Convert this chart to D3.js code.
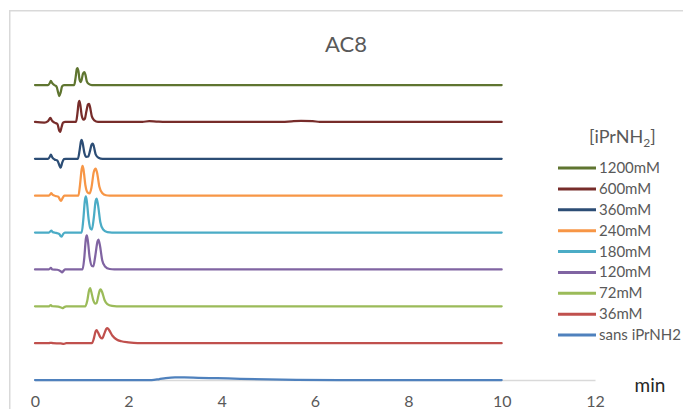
<!DOCTYPE html>
<html>
<head>
<meta charset="utf-8">
<script src="https://cdn.jsdelivr.net/npm/d3@7"></script>
<style>
  html, body { margin: 0; padding: 0; background: #fff; }
  svg { display: block; }
  text { font-family: Lato, "Liberation Sans", sans-serif; }
</style>
</head>
<body>
<svg id="chart" width="683" height="409"></svg>
<script>
// ---------- DATA ----------
const chartTitle = "AC8";
const legendTitle = "[iPrNH";
const xTicks = [0, 2, 4, 6, 8, 10, 12];
const xLabel = "min";

// legend order (top to bottom)
const seriesNames = ["1200mM", "600mM", "360mM", "240mM", "180mM", "120mM", "72mM", "36mM", "sans iPrNH2"];
const seriesColors = ["#5f7530", "#772c2a", "#2c4d75", "#f79646", "#4bacc6", "#8064a2", "#9bbb59", "#c0504d", "#4f81bd"];
// vertical offset (stacking) of each trace, signal units
const seriesOffsets = [800, 700, 600, 500, 400, 300, 200, 100, 0];

// traces: [time (min), signal]
const s1200 = [[0,0],[0.28,0],[0.32,6],[0.34,11],[0.37,5],[0.41,0],[0.46,-4],[0.5,-22],[0.52,-30],[0.55,-20],[0.58,-4],[0.62,0],[0.84,0],[0.87,20],[0.895,43],[0.91,46],[0.93,38],[0.955,14],[0.975,8],[0.995,12],[1.03,31],[1.06,35],[1.08,28],[1.11,10],[1.15,3],[1.22,0],[10,0]];
const s600 = [[0,0],[0.2,-2],[0.28,2],[0.33,11],[0.36,4],[0.42,-2],[0.48,-6],[0.52,-24],[0.54,-27],[0.57,-14],[0.6,-2],[0.65,0],[0.88,0],[0.91,24],[0.935,52],[0.95,57],[0.97,47],[1.0,18],[1.04,6],[1.07,9],[1.1,28],[1.135,47],[1.16,49],[1.18,40],[1.22,14],[1.27,4],[1.35,0],[2.3,0],[2.45,2],[2.6,1],[2.8,0],[5.3,0],[5.5,1.5],[5.7,2.5],[5.95,2],[6.1,0],[10,0]];
const s360 = [[0,0],[0.28,0],[0.32,6],[0.34,11],[0.37,4],[0.42,-2],[0.48,-5],[0.53,-20],[0.55,-24],[0.58,-12],[0.62,-1],[0.66,0],[0.92,0],[0.955,22],[0.985,47],[1.0,51],[1.02,43],[1.06,15],[1.1,5],[1.14,6],[1.18,22],[1.215,39],[1.24,41],[1.26,34],[1.3,12],[1.36,3],[1.45,0],[10,0]];
const s240 = [[0,0],[0.3,0],[0.33,4],[0.35,7],[0.38,2],[0.44,-1],[0.5,-3],[0.54,-12],[0.56,-14],[0.59,-7],[0.63,0],[0.93,0],[0.965,30],[1.0,72],[1.02,81],[1.04,70],[1.08,28],[1.13,8],[1.17,6],[1.21,22],[1.26,64],[1.3,73],[1.33,62],[1.38,24],[1.44,7],[1.52,1],[1.6,0],[10,0]];
const s180 = [[0,0],[0.3,0],[0.33,3],[0.35,5],[0.38,1],[0.45,-1],[0.52,-4],[0.55,-10],[0.57,-11],[0.6,-5],[0.64,0],[1.0,0],[1.035,35],[1.07,88],[1.09,98],[1.11,85],[1.15,35],[1.19,10],[1.22,8],[1.26,40],[1.3,86],[1.32,92],[1.35,75],[1.4,28],[1.46,8],[1.55,1],[1.65,0],[10,0]];
const s120 = [[0,0],[0.3,0],[0.34,4],[0.37,0],[0.48,-1],[0.55,-5],[0.58,-8],[0.61,-4],[0.65,0],[1.02,0],[1.055,30],[1.09,83],[1.11,92],[1.13,80],[1.17,33],[1.22,9],[1.25,8],[1.29,35],[1.34,76],[1.36,81],[1.39,66],[1.44,25],[1.5,8],[1.6,1],[1.7,0],[10,0]];
const s72 = [[0,0],[0.3,0],[0.34,3],[0.37,0],[0.5,-1],[0.57,-4],[0.6,-5],[0.63,-2],[0.67,0],[1.08,0],[1.12,15],[1.16,44],[1.18,49],[1.2,42],[1.25,16],[1.29,7],[1.32,9],[1.36,30],[1.39,44],[1.41,46],[1.44,38],[1.49,17],[1.55,6],[1.65,1],[1.75,0],[10,0]];
const s36 = [[0,0],[0.3,0],[0.34,1],[0.38,0],[0.55,-1],[0.62,-2],[0.67,0],[1.22,0],[1.26,12],[1.3,32],[1.32,35],[1.35,29],[1.4,16],[1.44,13],[1.49,27],[1.53,39],[1.55,41],[1.59,35],[1.66,20],[1.75,10],[1.85,5],[2.0,2],[2.2,0],[10,0]];
const sSans = [[0,0],[2.5,0],[2.65,2],[2.8,5],[3.0,7],[3.2,7],[3.5,6],[3.9,5],[4.4,3],[5.0,1.5],[5.6,0.5],[6.5,0],[10,0]];

const traces = [s1200, s600, s360, s240, s180, s120, s72, s36, sSans];

// ---------- DRAW ----------
const svg = d3.select("#chart");

const x = d3.scaleLinear().domain([0, 12]).range([35, 595]);
const y = d3.scaleLinear().domain([0, 800]).range([380, 85]);

// chart frame (left and top edges visible)
svg.append("path")
  .attr("d", "M9.75,409 L9.75,10.75 L683,10.75")
  .attr("fill", "none").attr("stroke", "#d9d9d9").attr("stroke-width", 1.5);

// title
svg.append("text")
  .attr("x", 346).attr("y", 52)
  .attr("text-anchor", "middle")
  .attr("font-size", 22).attr("fill", "#595959")
  .text(chartTitle);

// x axis
const xAxis = d3.axisBottom(x).tickValues(xTicks).tickSize(0).tickPadding(0).tickFormat(d3.format("d"));
const gx = svg.append("g").attr("transform", `translate(0,${y(0)})`).call(xAxis);
gx.select(".domain").attr("stroke", "#d9d9d9").attr("stroke-width", 1.5);
gx.selectAll(".tick text")
  .attr("y", 27).attr("dy", 0)
  .attr("font-family", "Lato, sans-serif")
  .attr("font-size", 16).attr("fill", "#595959");

svg.append("text")
  .attr("x", 650).attr("y", 392)
  .attr("text-anchor", "middle")
  .attr("font-size", 19).attr("fill", "#262626")
  .text(xLabel);

// traces
const line = d3.line()
  .x(d => x(d[0]))
  .y(d => d[1])
  .curve(d3.curveMonotoneX);

const order = d3.range(traces.length).reverse(); // draw sans first
svg.append("g").selectAll("path")
  .data(order)
  .join("path")
  .attr("fill", "none")
  .attr("stroke", i => seriesColors[i])
  .attr("stroke-width", 2.25)
  .attr("stroke-linejoin", "round")
  .attr("stroke-linecap", "round")
  .attr("d", i => line(traces[i].map(p => [p[0], y(seriesOffsets[i] + p[1])])));

// legend
const lg = svg.append("g");
const lt = lg.append("text")
  .attr("x", 589).attr("y", 143)
  .attr("font-size", 18).attr("fill", "#595959");
lt.append("tspan").text(legendTitle);
lt.append("tspan").attr("font-size", 12).attr("dy", 4).text("2");
lt.append("tspan").attr("dy", -4).text("]");

const rowY = d3.scaleLinear().domain([0, seriesNames.length - 1]).range([168, 335]);
const rows = lg.selectAll("g.row").data(seriesNames).join("g").attr("class", "row")
  .attr("transform", (d, i) => `translate(0,${rowY(i)})`);
rows.append("line")
  .attr("x1", 558).attr("x2", 596).attr("y1", 0).attr("y2", 0)
  .attr("stroke", (d, i) => seriesColors[i]).attr("stroke-width", 3);
rows.append("text")
  .attr("x", 599).attr("y", 5)
  .attr("font-size", 15).attr("fill", "#595959")
  .text(d => d);
</script>
</body>
</html>
